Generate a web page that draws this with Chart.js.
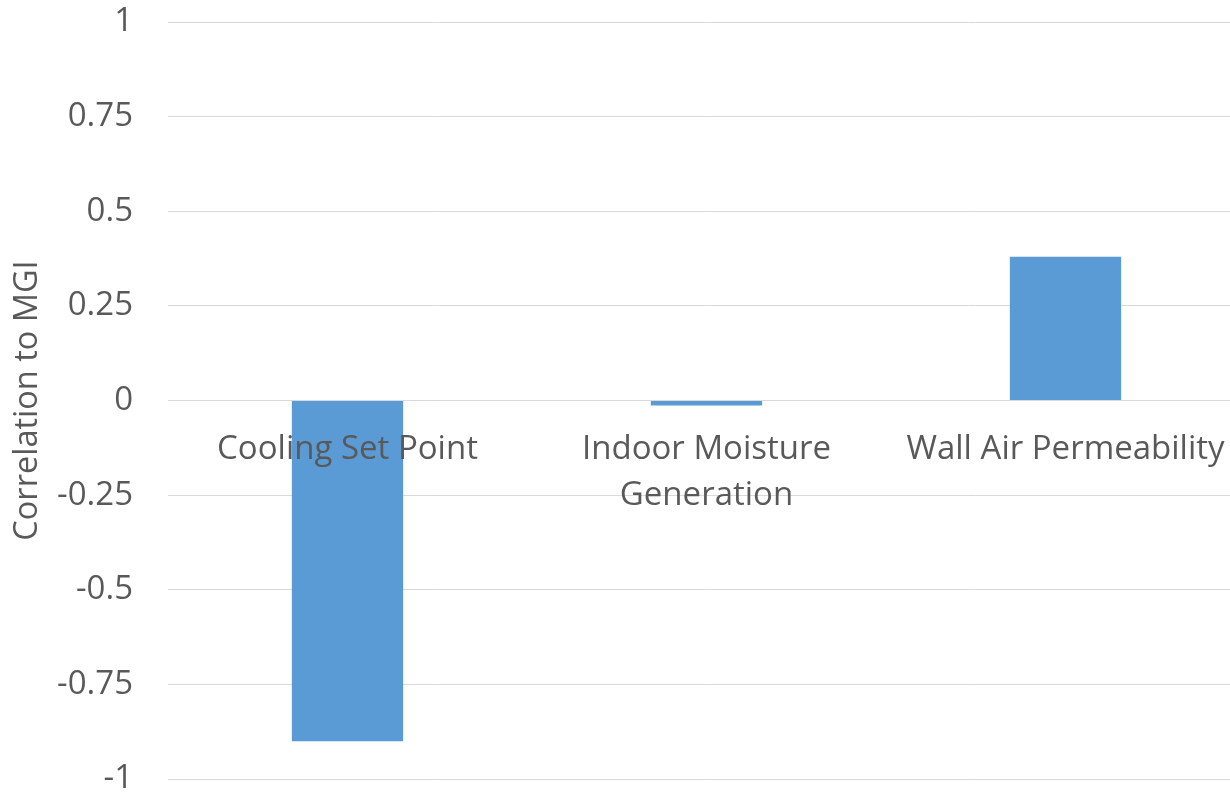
<!DOCTYPE html>
<html>
<head>
<meta charset="utf-8">
<script src="https://cdn.jsdelivr.net/npm/chart.js@4/dist/chart.umd.min.js"></script>
<style>
  html, body { margin: 0; padding: 0; background: #fff; overflow: hidden; }
  #wrap { position: relative; width: 1245px; height: 795px; }
</style>
</head>
<body>
<div id="wrap"><canvas id="corrChart"></canvas></div>
<script>
// Datos del gráfico
const categorias = ['Cooling Set Point', ['Indoor Moisture', 'Generation'], 'Wall Air Permeability'];
const correlacion = [-0.90, -0.013, 0.38];
const ticksY = [1, 0.75, 0.5, 0.25, 0, -0.25, -0.5, -0.75, -1];

const grisTexto = '#595959';
const grisRejilla = '#d9d9d9';
const fuente = "'Open Sans', sans-serif";

const ctx = document.getElementById('corrChart');
const grafica = new Chart(ctx, {
  type: 'bar',
  data: {
    labels: categorias,
    datasets: [{
      label: 'Correlation',
      data: correlacion,
      backgroundColor: '#5b9bd5',
      borderWidth: 0,
      barPercentage: 0.31,
      categoryPercentage: 1
    }]
  },
  options: {
    responsive: true,
    maintainAspectRatio: false,
    animation: false,
    layout: { padding: { top: 22, bottom: 16, left: 0, right: 0 } },
    plugins: {
      legend: { display: false },
      tooltip: { enabled: false }
    },
    scales: {
      x: {
        // eje de categorías sobre la línea del cero, etiquetas encima de las barras
        position: { y: 0 },
        afterFit: (scale) => { scale.height = 0; },
        grid: { display: false },
        border: { display: true, color: grisRejilla, width: 1 },
        ticks: {
          z: 1,
          color: grisTexto,
          font: { family: fuente, size: 33, lineHeight: 1.4 },
          padding: 18,
          maxRotation: 0,
          autoSkip: false
        }
      },
      y: {
        min: -1,
        max: 1,
        afterBuildTicks: (scale) => {
          scale.ticks = ticksY.map(v => ({ value: v }));
        },
        afterFit: (scale) => {
          scale.width = 168;
          // el padding de las etiquetas no debe reducir el área del gráfico
          scale.paddingTop = 0;
          scale.paddingBottom = 0;
        },
        grid: { color: grisRejilla, lineWidth: 1, drawTicks: false },
        border: { display: false },
        ticks: {
          color: grisTexto,
          font: { family: fuente, size: 33, lineHeight: 1 },
          padding: 35,
          callback: (v) => String(v)
        },
        title: {
          display: true,
          text: 'Correlation to MGI',
          color: grisTexto,
          font: { family: fuente, size: 32.5, lineHeight: 1 },
          padding: { top: 11, bottom: 0 }
        }
      }
    }
  }
});
</script>
</body>
</html>
